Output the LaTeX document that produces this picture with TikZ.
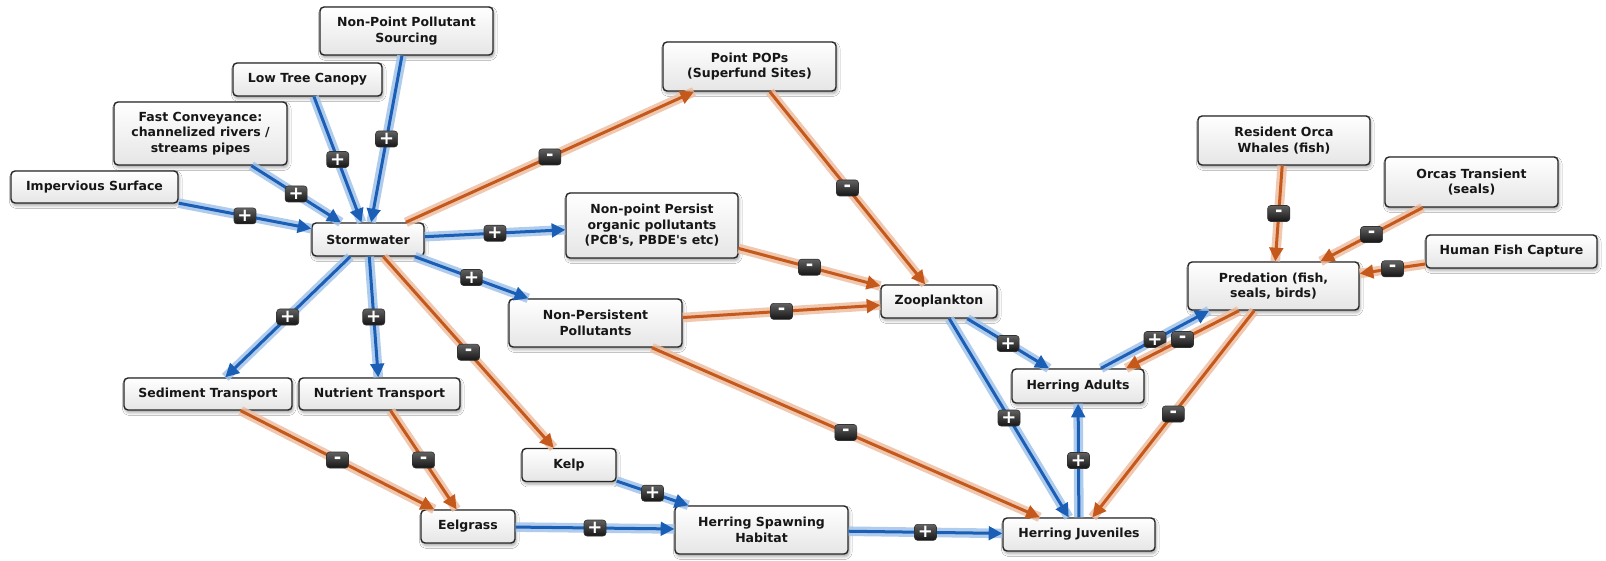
\documentclass[tikz,border=0pt]{standalone}
\usepackage{fontspec}
\newfontfamily\nodefont{DejaVu Sans}
\usetikzlibrary{arrows.meta,calc,shadows.blur}

\definecolor{bluecore}{RGB}{27,94,181}
\definecolor{bluehalo}{RGB}{163,196,234}
\definecolor{orangecore}{RGB}{197,89,28}
\definecolor{orangehalo}{RGB}{238,190,162}
\definecolor{boxline}{RGB}{38,38,38}
\definecolor{labeltext}{RGB}{22,22,22}

\tikzset{
  factor/.style={draw=boxline, line width=0.7pt, rounded corners=2pt,
    top color=white, bottom color=black!10, text=labeltext,
    font=\nodefont\bfseries\fontsize{6.25}{7.75}\selectfont,
    align=center, inner sep=1pt,
    blur shadow={shadow xshift=0.6pt, shadow yshift=-1.3pt,
      shadow blur radius=1.4pt, shadow opacity=35}},
  sz/.style 2 args={minimum width=#1*0.5pt, minimum height=#2*0.5pt},
  badge/.style={rounded corners=1.5pt, top color=black!62, bottom color=black!92,
    draw=black!80, line width=0.3pt, minimum width=11pt, minimum height=8pt,
    inner sep=0pt, text=white, midway,
    font=\nodefont\bfseries\fontsize{9}{9}\selectfont},
  posedge/.style={draw=bluecore, line width=1.5pt,
    -{Triangle[length=6.8pt,width=6.8pt]},
    preaction={draw=bluehalo, line width=4.8pt, -, draw opacity=0.85}},
  negedge/.style={draw=orangecore, line width=1.5pt,
    -{Triangle[length=6.8pt,width=6.8pt]},
    preaction={draw=orangehalo, line width=4.8pt, -, draw opacity=0.85}},
}

\begin{document}
\begin{tikzpicture}[x=0.5pt, y=-0.5pt]
\useasboundingbox (0,0) rectangle (1606,561);
\fill[white] (0,0) rectangle (1606,561);

% factors
\node[factor, sz={173}{48}] (nps)  at (406.5,31)   {Non-Point Pollutant\\Sourcing};
\node[factor, sz={149}{33}] (ltc)  at (307.5,79.5) {Low Tree Canopy};
\node[factor, sz={173}{63}] (fc)   at (200.5,133.5){Fast Conveyance:\\channelized rivers /\\streams pipes};
\node[factor, sz={167}{32}] (imp)  at (94.5,187)   {Impervious Surface};
\node[factor, sz={112}{33}] (storm) at (368,239.5) {Stormwater};
\node[factor, sz={173}{49}] (pops) at (749.5,66.5) {Point POPs\\(Superfund Sites)};
\node[factor, sz={172}{65}] (npp)  at (652,225.5)  {Non-point Persist\\organic pollutants\\(PCB\textquotesingle s, PBDE\textquotesingle s etc)};
\node[factor, sz={173}{48}] (nonp) at (595.5,323)  {Non-Persistent\\Pollutants};
\node[factor, sz={116}{33}] (zoo)  at (939,301.5)  {Zooplankton};
\node[factor, sz={172}{49}] (ro)   at (1284,140.5) {Resident Orca\\Whales (fish)};
\node[factor, sz={173}{50}] (ot)   at (1471.5,182) {Orcas Transient\\(seals)};
\node[factor, sz={171}{33}] (hfc)  at (1511.5,251.5){Human Fish Capture};
\node[factor, sz={171}{48}] (pred) at (1273.5,286) {Predation (fish,\\seals, birds)};
\node[factor, sz={132}{34}] (ha)   at (1078,386)   {Herring Adults};
\node[factor, sz={152}{33}] (hj)   at (1079,534.5) {Herring Juveniles};
\node[factor, sz={173}{48}] (hsh)  at (761.5,530)  {Herring Spawning\\Habitat};
\node[factor, sz={94}{33}]  (kelp) at (569,465)    {Kelp};
\node[factor, sz={94}{33}]  (eel)  at (468,526.5)  {Eelgrass};
\node[factor, sz={168}{32}] (sed)  at (208,394)    {Sediment Transport};
\node[factor, sz={161}{32}] (nut)  at (379.5,394)  {Nutrient Transport};

% influences into and out of stormwater
\draw[posedge] (imp) -- node[badge] (b1) {+} (storm);
\draw[posedge] (fc) -- node[badge] (b2) {+} (storm);
\draw[posedge] (ltc) -- node[badge] (b3) {+} (storm);
\draw[posedge] (nps) -- node[badge] (b4) {+} (storm);
\draw[negedge] (storm) -- node[badge] (b5) {-} (pops);
\draw[posedge] (storm) -- node[badge] (b6) {+} (npp);
\draw[posedge] (storm) -- node[badge] (b7) {+} (nonp);
\draw[posedge] (storm) -- node[badge] (b8) {+} (sed);
\draw[posedge] (storm) -- node[badge] (b9) {+} (nut);
\draw[negedge] (storm) -- node[badge] (b10) {-} (kelp);

% pollutants to the food web
\draw[negedge] (pops) -- node[badge] (b11) {-} (zoo);
\draw[negedge] (npp) -- node[badge] (b12) {-} (zoo);
\draw[negedge] (nonp) -- node[badge] (b13) {-} (zoo);
\draw[negedge] (nonp) -- node[badge] (b14) {-} (hj);

% habitat chain
\draw[negedge] (sed) -- node[badge] (b15) {-} (eel);
\draw[negedge] (nut) -- node[badge] (b16) {-} (eel);
\draw[posedge] (kelp) -- node[badge] (b17) {+} (hsh);
\draw[posedge] (eel) -- node[badge] (b18) {+} (hsh);
\draw[posedge] (hsh) -- node[badge] (b19) {+} (hj);

% herring
\draw[posedge] (zoo) -- node[badge] (b20) {+} (ha);
\draw[posedge] (zoo) -- node[badge] (b21) {+} (hj);
\draw[posedge] (hj) -- node[badge] (b22) {+} (ha);

% predators
\draw[negedge] (ro) -- node[badge] (b23) {-} (pred);
\draw[negedge] (ot) -- node[badge] (b24) {-} (pred);
\draw[negedge] (hfc) -- node[badge] (b25) {-} (pred);
\draw[negedge] (pred) -- node[badge] (b26) {-} (hj);
\draw[posedge] ($(ha.north)+(23,0)$) -- node[badge] (b27) {+} ($(pred.south)+(-64.5,0)$);
\draw[negedge] ($(pred.south)+(-34.5,0)$) -- node[badge] (b28) {-} ($(ha.north)+(48,0)$);
\end{tikzpicture}
\end{document}
